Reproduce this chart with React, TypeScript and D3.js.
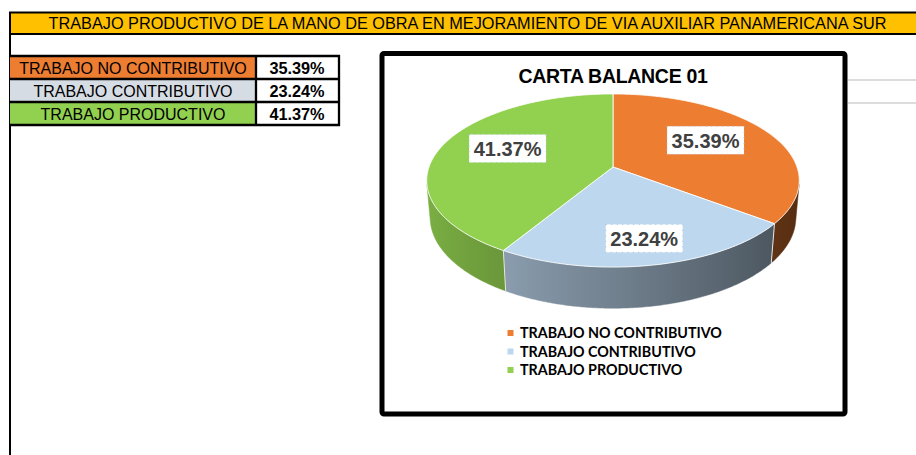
import * as d3 from "d3";

// worksheet values
const categories = ["TRABAJO NO CONTRIBUTIVO", "TRABAJO CONTRIBUTIVO", "TRABAJO PRODUCTIVO"];
const shares = [35.39, 23.24, 41.37];
const shareLabels = ["35.39%", "23.24%", "41.37%"];
const sliceColors = ["#ED7D31", "#BDD7EE", "#92D050"];
const cellColors = ["#ED7D31", "#D6DCE4", "#92D050"];
const bannerTitle =
  "TRABAJO PRODUCTIVO DE LA MANO DE OBRA EN MEJORAMIENTO DE VIA AUXILIAR PANAMERICANA SUR";
const chartTitle = "CARTA BALANCE 01";

const W = 916;
const H = 455;
const FONT = "'Liberation Sans', Arial, sans-serif";

// 3D pie projection (perspective, tilted toward viewer)
const cx = 613;
const cy = 167;
const R = 184;
const depth = 42;
const dist = 1047;
const tilt = Math.asin(0.459);
const sinE = Math.sin(tilt);
const cosE = Math.cos(tilt);

const project = (theta: number, r: number, h: number): [number, number] => {
  const u = r * Math.sin(theta);
  const v = r * Math.cos(theta);
  const w = dist + v * cosE - h * sinE;
  const y = v * sinE + h * cosE;
  return [cx + (dist * u) / w, cy - (dist * y) / w];
};

// side wall faces the camera where cos(theta) < limit
const limit = -R / (dist * cosE);
const visLo = Math.acos(limit);
const visHi = 2 * Math.PI - visLo;

const shade = (base: string, theta: number) => {
  const f = Math.max(0.3, Math.min(0.9, 0.6 - 0.25 * Math.sin(theta)));
  const c = d3.rgb(base);
  return d3.rgb(c.r * f, c.g * f, c.b * f).formatHex();
};

const sampleAngles = (a0: number, a1: number) => {
  const n = Math.max(2, Math.ceil((a1 - a0) / 0.01));
  return d3.range(n + 1).map((i) => a0 + ((a1 - a0) * i) / n);
};

const line = d3.line<[number, number]>();

export default function App() {
  const arcs = d3.pie<number>().sort(null).value((d) => d)(shares);
  const color = d3.scaleOrdinal<string, string>().domain(categories).range(sliceColors);

  const rows = d3.scaleBand<string>().domain(categories).range([56, 125]);
  const legendY = d3.scalePoint<string>().domain(categories).range([333, 370]);

  const sides = arcs
    .map((a, i) => {
      const lo = Math.max(a.startAngle, visLo);
      const hi = Math.min(a.endAngle, visHi);
      if (lo >= hi) return null;
      const ts = sampleAngles(lo, hi);
      const top = ts.map((t) => project(t, R, 0));
      const bottom = ts.slice().reverse().map((t) => project(t, R, -depth));
      const xLeft = project(hi, R, 0)[0];
      const xRight = project(lo, R, 0)[0];
      const stops = sampleAngles(lo, hi)
        .filter((_, k) => k % 4 === 0)
        .map((t) => ({
          offset: (project(t, R, 0)[0] - xLeft) / (xRight - xLeft),
          color: shade(color(categories[i]), t),
        }))
        .sort((p, q) => p.offset - q.offset);
      return { i, d: line([...top, ...bottom]) + "Z", xLeft, xRight, stops, lo, hi };
    })
    .filter((s) => s !== null) as any[];

  const edges = arcs
    .map((a) => a.startAngle)
    .filter((t) => t > visLo && t < visHi)
    .map((t) => [project(t, R, 0), project(t, R, -depth)]);

  return (
    <svg
      width={W}
      height={H}
      style={{ position: "absolute", left: 0, top: 0, background: "#fff" }}
    >
      <defs>
        {sides.map((s) => (
          <linearGradient
            key={s.i}
            id={`side-${s.i}`}
            gradientUnits="userSpaceOnUse"
            x1={s.xLeft}
            x2={s.xRight}
            y1={0}
            y2={0}
          >
            {s.stops.map((st: any, k: number) => (
              <stop key={k} offset={st.offset} stopColor={st.color} />
            ))}
          </linearGradient>
        ))}
      </defs>

      {/* sheet frame */}
      <line x1={10} x2={10} y1={12} y2={H} stroke="#000" strokeWidth={2} />
      <rect x={10} y={12.5} width={W + 10} height={21.5} fill="#FFC000" stroke="#000" strokeWidth={2} />
      <text
        x={467.5}
        y={29.3}
        textAnchor="middle"
        fontFamily={FONT}
        fontSize={16.3}
        fill="#000"
      >
        {bannerTitle}
      </text>

      {/* summary table */}
      {categories.map((c, i) => (
        <g key={c}>
          <rect x={10} y={rows(c)} width={246} height={rows.bandwidth()} fill={cellColors[i]} />
          <rect x={256} y={rows(c)} width={83} height={rows.bandwidth()} fill="#fff" />
          <text
            x={133}
            y={(rows(c) as number) + 18}
            textAnchor="middle"
            fontFamily={FONT}
            fontSize={16}
            fill="#000"
          >
            {c}
          </text>
          <text
            x={297}
            y={(rows(c) as number) + 18}
            textAnchor="middle"
            fontFamily={FONT}
            fontSize={16.3}
            fontWeight="bold"
            fill="#000"
          >
            {shareLabels[i]}
          </text>
        </g>
      ))}
      {[...categories.map((c) => rows(c) as number), 125].map((y, k) => (
        <line key={k} x1={10} x2={340} y1={y} y2={y} stroke="#000" strokeWidth={2.3} />
      ))}
      {[256, 339].map((x) => (
        <line key={x} x1={x} x2={x} y1={55} y2={126} stroke="#000" strokeWidth={2.3} />
      ))}

      {/* faint sheet gridlines right of the chart */}
      {[80, 103].map((y) => (
        <line key={y} x1={848} x2={W} y1={y} y2={y} stroke="#d0d0d0" strokeWidth={1.5} />
      ))}

      {/* chart area */}
      <rect x={382} y={53.5} width={463} height={360.5} rx={2} fill="#fff" stroke="#000" strokeWidth={5} />
      <text
        x={613}
        y={83}
        textAnchor="middle"
        fontFamily={FONT}
        fontSize={19.5}
        fontWeight="bold"
        fill="#000"
        letterSpacing={-0.3}
      >
        {chartTitle}
      </text>

      {/* side walls */}
      {sides.map((s) => (
        <path key={s.i} d={s.d} fill={`url(#side-${s.i})`} stroke={`url(#side-${s.i})`} strokeWidth={0.5} />
      ))}
      {edges.map((e, k) => (
        <line
          key={k}
          x1={e[0][0]}
          y1={e[0][1]}
          x2={e[1][0]}
          y2={e[1][1]}
          stroke="#e6e6e6"
          strokeWidth={1}
        />
      ))}

      {/* top faces */}
      {arcs.map((a, i) => {
        const pts = sampleAngles(a.startAngle, a.endAngle).map((t) => project(t, R, 0));
        const d = line([project(0, 0, 0), ...pts]) + "Z";
        return (
          <path
            key={i}
            d={d}
            fill={color(categories[i])}
            stroke="#ffffff"
            strokeOpacity={0.85}
            strokeWidth={1}
            strokeLinejoin="round"
          />
        );
      })}

      {/* data labels */}
      {arcs.map((a, i) => {
        const mid = (a.startAngle + a.endAngle) / 2;
        const k = 0.65 - 0.15 * Math.cos(mid);
        const [lx, ly0] = project(mid, R * k, 0);
        const ly = ly0 - 4 - 4 * Math.max(0, Math.cos(mid));
        return (
          <g key={i}>
            <rect
              x={lx - 38.5}
              y={ly - 14}
              width={77}
              height={28}
              fill="#fff"
              stroke="#9dc3e6"
              strokeWidth={1}
              strokeDasharray="1 4.5"
            />
            <text
              x={lx}
              y={ly + 7.5}
              textAnchor="middle"
              fontFamily={FONT}
              fontSize={20}
              fontWeight="bold"
              fill="#404040"
            >
              {shareLabels[i]}
            </text>
          </g>
        );
      })}

      {/* legend */}
      {categories.map((c) => (
        <g key={c}>
          <rect x={507.5} y={(legendY(c) as number) - 3} width={6} height={6} fill={color(c)} />
          <text
            x={520}
            y={(legendY(c) as number) + 5.3}
            fontFamily="Lato, 'Open Sans', sans-serif"
            fontSize={14.3}
            fontWeight="bold"
            fill="#000"
          >
            {c}
          </text>
        </g>
      ))}
    </svg>
  );
}
